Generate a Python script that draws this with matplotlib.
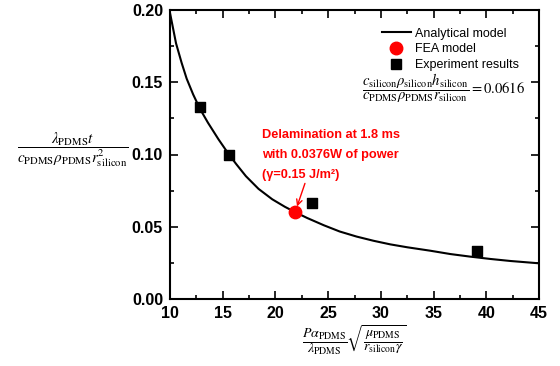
import matplotlib
matplotlib.use("Agg")
import matplotlib.pyplot as plt
from matplotlib.ticker import MultipleLocator
from matplotlib.lines import Line2D

plt.rcParams['mathtext.fontset'] = 'stix'
plt.rcParams['font.family'] = ['Liberation Sans', 'DejaVu Sans']

# Analytical model curve
model_x = [10, 10.57, 11.1, 11.58, 12.2, 12.85, 13.6, 14.6, 15.6, 16.3, 17.2, 18.4,
           19.7, 20.9, 21.9, 23.0, 24.6, 26.1, 27.7, 29.3, 30.9, 32.5, 34.7, 36.6,
           38.5, 40.4, 42.3, 45]
model_y = [0.198, 0.177, 0.1635, 0.1525, 0.1415, 0.1315, 0.122, 0.1105, 0.0999,
           0.0932, 0.0850, 0.0762, 0.0690, 0.0638, 0.0600, 0.0561, 0.0510, 0.0467,
           0.0432, 0.0403, 0.0378, 0.0358, 0.0334, 0.0311, 0.0293, 0.0277, 0.0263,
           0.0247]

# FEA model point
fea_x = [21.87]
fea_y = [0.0600]

# Experiment results
exp_x = [12.85, 15.6, 23.5, 39.1]
exp_y = [0.133, 0.0999, 0.0664, 0.0334]

x_ticks = [10, 15, 20, 25, 30, 35, 40, 45]
y_ticks = [0.00, 0.05, 0.10, 0.15, 0.20]

fig = plt.figure(figsize=(5.6, 3.66), dpi=100)
ax = fig.add_axes([170/560, 1-299/366, (539-170)/560, (299-10)/366])

ax.plot(model_x, model_y, color='black', lw=1.5, zorder=2)
ax.scatter(exp_x, exp_y, marker='s', s=55, color='black', zorder=3)
ax.scatter(fea_x, fea_y, marker='o', s=80, color='#ff0000', zorder=4)

ax.set_xlim(10, 45)
ax.set_ylim(0, 0.20)
ax.set_xticks(x_ticks)
ax.set_yticks(y_ticks)
ax.set_xticklabels([str(v) for v in x_ticks])
ax.set_yticklabels([f"{v:.2f}" for v in y_ticks])
ax.xaxis.set_minor_locator(MultipleLocator(2.5))
ax.yaxis.set_minor_locator(MultipleLocator(0.025))
ax.tick_params(which='both', direction='in', top=True, right=True, width=1.2)
ax.tick_params(which='major', length=6)
ax.tick_params(which='minor', length=3)
ax.tick_params(axis='y', pad=5)
ax.tick_params(axis='x', pad=5)
for lab in ax.get_xticklabels() + ax.get_yticklabels():
    lab.set_fontsize(11.5)
    lab.set_fontweight('bold')
for s in ax.spines.values():
    s.set_linewidth(1.5)

handles = [Line2D([], [], color='black', lw=1.5),
           Line2D([], [], marker='o', color='#ff0000', ls='none', markersize=9),
           Line2D([], [], marker='s', color='black', ls='none', markersize=7.5)]
ax.legend(handles, ['Analytical model', 'FEA model', 'Experiment results'],
          loc='upper right', bbox_to_anchor=(0.965, 0.965), frameon=False,
          fontsize=9, handlelength=2.3, handletextpad=0.3, labelspacing=0.3,
          borderaxespad=0.2)

ax.text(0.74, 0.73,
        r'$\dfrac{c_{\mathrm{silicon}}\rho_{\mathrm{silicon}}h_{\mathrm{silicon}}}'
        r'{c_{\mathrm{PDMS}}\rho_{\mathrm{PDMS}}r_{\mathrm{silicon}}}=0.0616$',
        transform=ax.transAxes, fontsize=10.5, ha='center', va='center')

ax.text(18.7, 0.1175,
        'Delamination at 1.8 ms\nwith 0.0376W of power\n(γ=0.15 J/m²)',
        color='#ff0000', fontsize=9.2, fontweight='bold', ha='left', va='top',
        multialignment='left', linespacing=1.85)
ax.annotate('', xy=(22.05, 0.064), xytext=(22.8, 0.080),
            arrowprops=dict(arrowstyle='->', color='#ff0000', lw=1.0,
                            shrinkA=0, shrinkB=0))

fig.text(73/560, 1-150/366,
         r'$\dfrac{\lambda_{\mathrm{PDMS}}t}{c_{\mathrm{PDMS}}\rho_{\mathrm{PDMS}}r^{2}_{\mathrm{silicon}}}$',
         fontsize=11, ha='center', va='center')
fig.text(354/560, 1-340/366,
         r'$\dfrac{P\alpha_{\mathrm{PDMS}}}{\lambda_{\mathrm{PDMS}}}'
         r'\sqrt{\dfrac{\mu_{\mathrm{PDMS}}}{r_{\mathrm{silicon}}\gamma}}$',
         fontsize=10, ha='center', va='center')

fig.savefig('out.png', dpi=100)
